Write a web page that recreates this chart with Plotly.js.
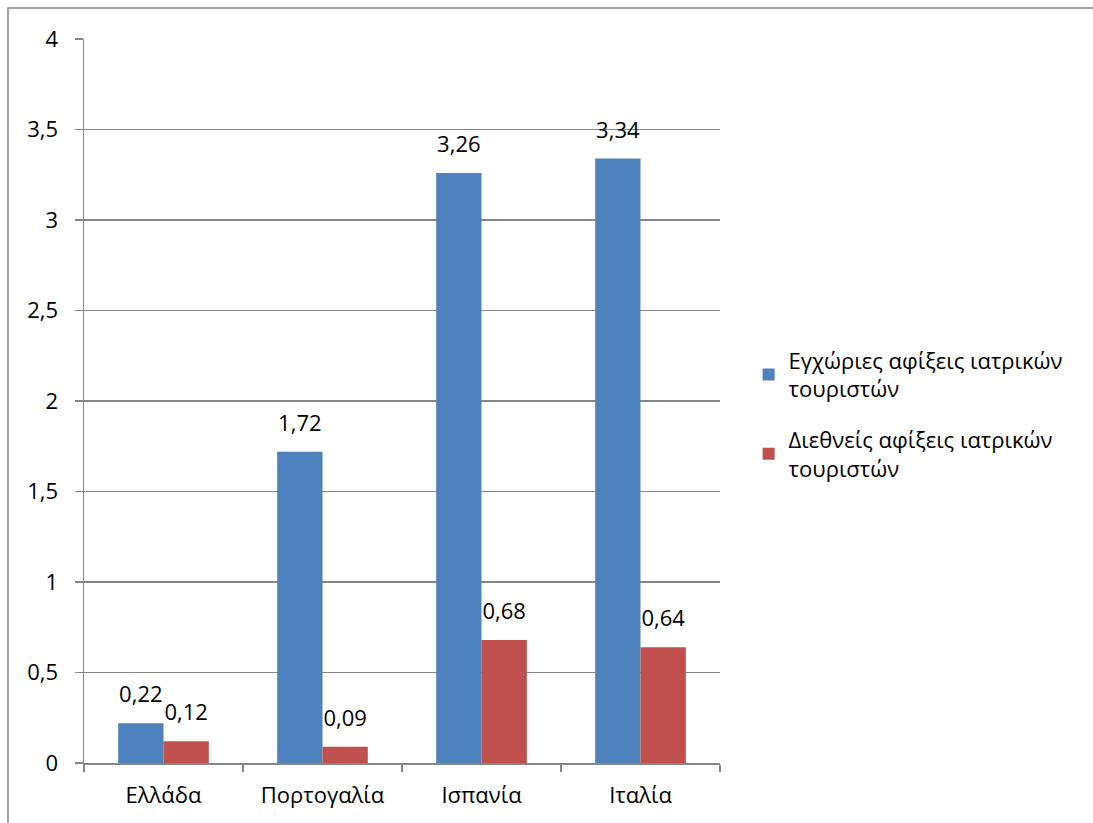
<!DOCTYPE html>
<html><head><meta charset="utf-8">
<script src="https://cdn.plot.ly/plotly-3.0.1.min.js"></script>
<style>html,body{margin:0;padding:0;background:#fff;}#c{width:1093px;height:823px;}</style>
</head><body><div id="c"></div>
<script>
const categories = ["Ελλάδα", "Πορτογαλία", "Ισπανία", "Ιταλία"];
const domestic = [0.22, 1.72, 3.26, 3.34];
const international = [0.12, 0.09, 0.68, 0.64];
const seriesNames = ["Εγχώριες αφίξεις ιατρικών<br>τουριστών", "Διεθνείς αφίξεις ιατρικών<br>τουριστών"];
const yTicks = [0, 0.5, 1, 1.5, 2, 2.5, 3, 3.5, 4];

const fmt = v => String(v).replace('.', ',');
const font = {family: "Open Sans, Noto Sans, sans-serif", size: 22, color: "#000"};
const GAP = 0.43;

const traces = [
  {type: "bar", x: categories, y: domestic, name: seriesNames[0], legendgroup: "a",
   marker: {color: "#4F81BD"}, offsetgroup: "1", hoverinfo: "none"},
  {type: "bar", x: categories, y: international, name: seriesNames[1], legendgroup: "b",
   marker: {color: "#C0504D"}, offsetgroup: "2", hoverinfo: "none"},
  {type: "scatter", mode: "text+markers", x: categories, y: domestic, showlegend: false,
   offsetgroup: "1", text: domestic.map(fmt), textposition: "top center", textfont: font,
   marker: {size: 23, color: "rgba(0,0,0,0)"}, cliponaxis: false, hoverinfo: "none"},
  {type: "scatter", mode: "text+markers", x: categories, y: international, showlegend: false,
   offsetgroup: "2", text: international.map(fmt), textposition: "top center", textfont: font,
   marker: {size: 23, color: "rgba(0,0,0,0)"}, cliponaxis: false, hoverinfo: "none"}
];

const layout = {
  width: 1093, height: 823,
  margin: {l: 84, r: 373, t: 39, b: 60},
  paper_bgcolor: "#fff", plot_bgcolor: "#fff",
  separators: ",.",
  font: font,
  barmode: "group", bargap: GAP, bargroupgap: 0,
  scattermode: "group", scattergap: GAP,
  showlegend: true,
  legend: {x: 1.045, y: 0.585, xanchor: "left", yanchor: "top", font: font,
           tracegroupgap: 19, itemwidth: 30},
  xaxis: {type: "category", showline: true, linecolor: "#868686", linewidth: 1.5,
          ticks: "outside", tickson: "boundaries", ticklen: 7, tickcolor: "#868686",
          tickwidth: 1.5, ticklabelstandoff: 12, tickfont: font, showgrid: false},
  yaxis: {range: [0, 4], tickvals: yTicks, showline: true, linecolor: "#868686",
          linewidth: 1.5, ticks: "outside", ticklen: 8, tickcolor: "#868686",
          tickwidth: 1.5, showgrid: true, gridcolor: "#868686", gridwidth: 1.5,
          zeroline: false, ticklabelstandoff: 12, tickfont: font},
  shapes: [{type: "rect", xref: "paper", yref: "paper",
            x0: -0.1195, x1: 2, y0: -0.5, y1: 1.0428,
            line: {color: "#888", width: 1.5}, fillcolor: "rgba(0,0,0,0)", layer: "below"}]
};

Plotly.newPlot("c", traces, layout, {displayModeBar: false, staticPlot: true});
</script></body></html>
